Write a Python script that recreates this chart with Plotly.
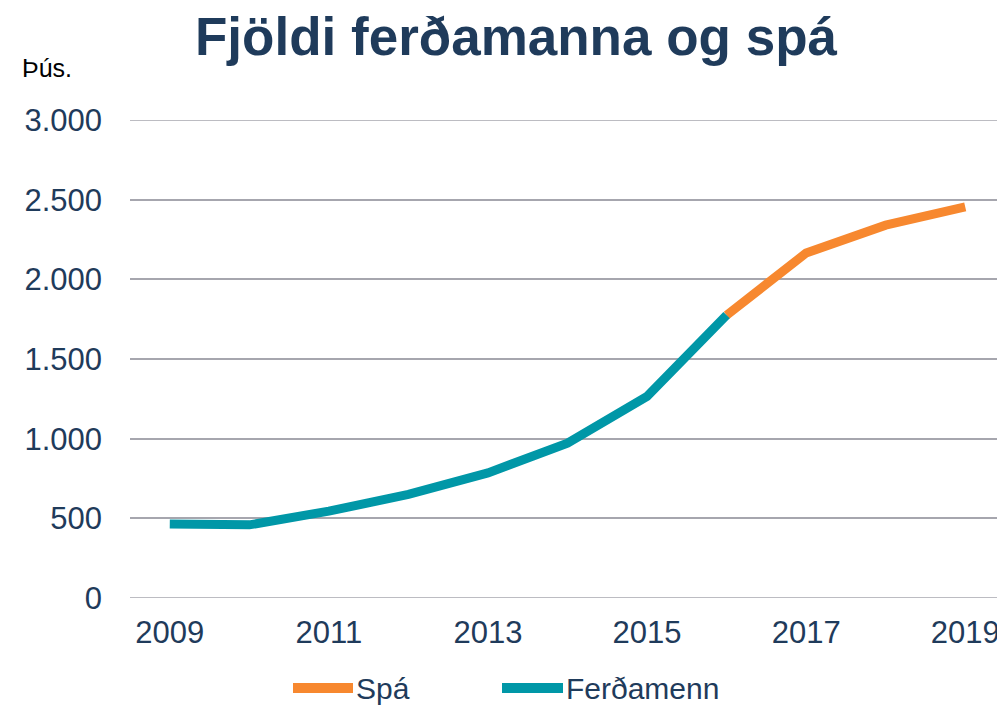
import plotly.graph_objects as go

years = [2009, 2010, 2011, 2012, 2013, 2014, 2015, 2016, 2017, 2018, 2019]
ferdamenn = [465, 459, 545, 650, 785, 972, 1265, 1775, None, None, None]
spa = [None, None, None, None, None, None, None, 1775, 2165, 2340, 2455]
ytick_vals = [0, 500, 1000, 1500, 2000, 2500, 3000]
ytick_text = ["0", "500", "1.000", "1.500", "2.000", "2.500", "3.000"]
xtick_vals = [2009, 2011, 2013, 2015, 2017, 2019]

NAVY = "#1F3B5B"
TEAL = "#0097A7"
ORANGE = "#F7882F"
GRID = "#A6A6AE"
FONT = "Liberation Sans, Arial, sans-serif"

# page has an 8px body margin; figure is sized to fill the rest of the window
OFF = 8
W, H = 1005 - OFF, 707 - OFF

fig = go.Figure()
fig.add_trace(go.Scatter(x=years, y=spa, mode="lines", name="Spá",
                         line=dict(color=ORANGE, width=9), showlegend=False))
fig.add_trace(go.Scatter(x=years, y=ferdamenn, mode="lines", name="Ferðamenn",
                         line=dict(color=TEAL, width=9), showlegend=False))

fig.update_layout(
    width=W, height=H,
    margin=dict(l=130 - OFF, r=0, t=120 - OFF, b=707 - 598),
    plot_bgcolor="white", paper_bgcolor="white",
    font=dict(family=FONT, color=NAVY, size=31),
    title=dict(text="<b>Fjöldi ferðamanna og spá</b>", x=(516 - OFF) / W, xanchor="center",
               y=1 - (36 - OFF) / H, yanchor="middle", xref="container", yref="container",
               font=dict(family=FONT, size=53, color=NAVY)),
    xaxis=dict(range=[2008.5, 2019.5], tickvals=xtick_vals, showgrid=False,
               zeroline=False, showline=False, ticks="",
               tickfont=dict(size=31, color=NAVY), ticklabelstandoff=13),
    yaxis=dict(range=[0, 3000], tickvals=ytick_vals, ticktext=ytick_text,
               showgrid=True, gridcolor=GRID, gridwidth=1.5,
               zeroline=False, showline=False, ticks="",
               tickfont=dict(size=31, color=NAVY), ticklabelstandoff=27),
)

# edge gridlines (0 and 3000)
for yv in (ytick_vals[0], ytick_vals[-1]):
    fig.add_shape(type="line", xref="paper", yref="y", x0=0, x1=1, y0=yv, y1=yv,
                  line=dict(color=GRID, width=1.5), layer="below")

def px_x(p):
    return (p - 130) / 875

def px_y(p):
    return (598 - p) / 478

# unit label
fig.add_annotation(text="Þús.", xref="paper", yref="paper", x=px_x(20),
                   y=px_y(68), xanchor="left", yanchor="middle",
                   showarrow=False, font=dict(family=FONT, size=25, color="black"))

# manual legend
legend_items = [("Spá", ORANGE, 293, 353), ("Ferðamenn", TEAL, 502, 563)]
ly = 688
for name, color, x0, x1 in legend_items:
    fig.add_shape(type="line", xref="paper", yref="paper",
                  x0=px_x(x0), x1=px_x(x1), y0=px_y(ly), y1=px_y(ly),
                  line=dict(color=color, width=10))
    fig.add_annotation(text=name, xref="paper", yref="paper", x=px_x(x1 + 1),
                       y=px_y(ly), xanchor="left", yanchor="middle", showarrow=False,
                       font=dict(family=FONT, size=30, color=NAVY))

fig.write_html("out.html")
